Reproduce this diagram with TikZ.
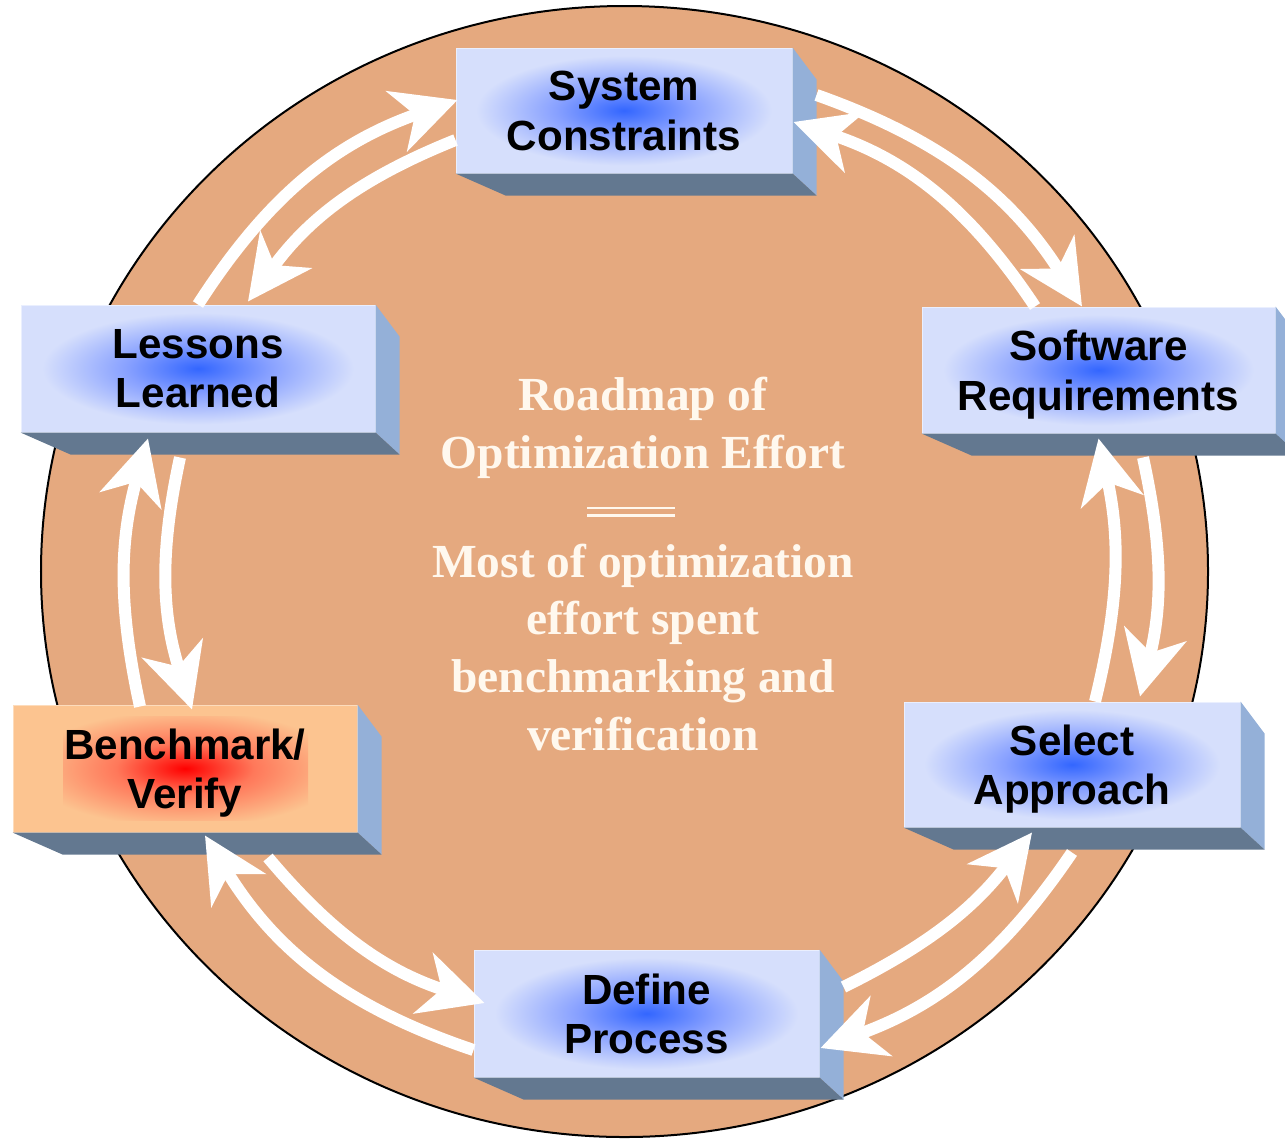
\documentclass[tikz,border=0pt]{standalone}
\usepackage{fontspec}
\setmainfont{Liberation Serif}
\setsansfont{Liberation Sans}
\usetikzlibrary{calc}
\usetikzlibrary{arrows.meta}

\definecolor{discfill}{RGB}{229,169,127}
\definecolor{facelight}{RGB}{214,223,252}
\definecolor{facemid}{RGB}{135,160,255}
\definecolor{facecore}{RGB}{51,102,255}
\definecolor{sidefill}{RGB}{148,176,216}
\definecolor{bottomfill}{RGB}{99,120,144}
\definecolor{peach}{RGB}{252,196,144}
\definecolor{peachmid}{RGB}{255,120,90}
\definecolor{notetext}{RGB}{255,248,238}

\pgfdeclareradialshading{blueglow}{\pgfpoint{0bp}{0bp}}{color(0bp)=(facecore); color(10bp)=(facemid); color(22bp)=(facelight); color(50bp)=(facelight)}
\pgfdeclareradialshading{redglow}{\pgfpoint{0bp}{0bp}}{color(0bp)=(red); color(10bp)=(peachmid); color(23bp)=(peach); color(50bp)=(peach)}

\tikzset{
    stepbox/.style={rectangle, inner sep=0pt, draw=white!50!facelight, line width=0.01cm,
        align=center, text depth=0pt, font=\sffamily\bfseries\fontsize{12}{14.1}\selectfont},
    glowbox/.style={stepbox, shade, shading=blueglow},
    cyclearrow/.style={white, line width=0.12cm, -{Stealth[length=0.64cm,width=0.63cm,inset=0.19cm]}},
    notefont/.style={text=notetext, align=center, inner sep=0pt,
        font=\rmfamily\bfseries\fontsize{13.5}{16.5}\selectfont}
}

\begin{document}
\begin{tikzpicture}

        \useasboundingbox (0,0) rectangle (12.85,-11.40);

        \coordinate (c) at (6.245,-5.715);
        \draw[line width=0.02cm, fill=discfill] (c) ellipse (5.835 and 5.655);

        \node[glowbox, minimum width=3.36cm, minimum height=1.25cm] (sc) at (6.24,-1.105) {System\\Constraints};
        \node[glowbox, minimum width=3.53cm, minimum height=1.26cm] (sr) at (10.985,-3.70) {Software\\Requirements};
        \node[glowbox, minimum width=3.36cm, minimum height=1.25cm] (sa) at (10.72,-7.645) {Select\\Approach};
        \node[glowbox, minimum width=3.45cm, minimum height=1.27cm] (dp) at (6.465,-10.135) {Define\\Process};
        \node[stepbox, fill=peach, draw=white!40!peach,
            minimum width=3.44cm, minimum height=1.27cm,
            path picture={\shade[shading=redglow] ($(path picture bounding box.center)+(-1.22,-0.52)$) rectangle ($(path picture bounding box.center)+(1.23,0.52)$);}] (bv) at (1.85,-7.685) {Benchmark/\\Verify};
        \node[glowbox, minimum width=3.54cm, minimum height=1.27cm] (ll) at (1.98,-3.685) {Lessons\\Learned};

        \foreach \n in {sc,sr,sa,dp,bv,ll}{
            \fill[sidefill] (\n.north east) -- ++(0.24,-0.32) -- ($(\n.south east)+(0.24,-0.22)$) -- (\n.south east) -- cycle;
            \fill[bottomfill] (\n.south west) -- ++(0.5,-0.22) -- ($(\n.south east)+(0.24,-0.22)$) -- (\n.south east) -- cycle;
        }

        % Lessons <-> System
        \draw[cyclearrow] (ll.north) to[bend left=19] ($(sc.west)+(0.02,0.105)$);
        \draw[cyclearrow] ($(sc.west)+(0,-0.295)$) to[bend right=16] ($(ll.north)+(0.5,0.03)$);
        % System <-> Software
        \draw[cyclearrow] ($(sc.east)+(0.24,0.155)$) to[bend left=19] ($(sr.north)+(-0.165,0)$);
        \draw[cyclearrow] ($(sr.north)+(-0.635,0)$) to[bend right=19] ($(sc.east)+(0.01,-0.115)$);
        % Software <-> Select
        \draw[cyclearrow] ($(sr.south)+(0.445,-0.24)$) to[bend left=13] ($(sa.north)+(0.68,0.05)$);
        \draw[cyclearrow] ($(sa.north)+(0.23,0)$) to[bend right=13] ($(sr.south)+(0,-0.05)$);
        % Select <-> Define
        \draw[cyclearrow] ($(sa.south)+(0,-0.25)$) to[bend left=18] ($(dp.east)+(0.01,-0.345)$);
        \draw[cyclearrow] ($(dp.east)+(0.24,0.265)$) to[bend right=13] ($(sa.south)+(-0.4,-0.05)$);
        % Define <-> Benchmark
        \draw[cyclearrow] ($(dp.west)+(0,-0.365)$) to[bend left=20] ($(bv.south)+(0.2,-0.03)$);
        \draw[cyclearrow] ($(bv.south)+(0.83,-0.25)$) to[bend right=16] ($(dp.west)+(0.11,0.105)$);
        % Benchmark <-> Lessons
        \draw[cyclearrow] ($(bv.north)+(-0.45,-0.02)$) to[bend left=14] ($(ll.south)+(-0.5,-0.06)$);
        \draw[cyclearrow] ($(ll.south)+(-0.18,-0.25)$) to[bend right=15] ($(bv.north)+(0.07,-0.05)$);

        \node[notefont] (title) at (6.43,-4.28) {Roadmap of\\Optimization Effort};
        \draw[notetext, line width=0.025cm] (5.87,-5.08) -- (6.75,-5.08);
        \draw[notetext, line width=0.025cm] (5.87,-5.155) -- (6.75,-5.155);
        \node[notefont] (note) at (6.43,-6.475) {Most of optimization\\effort spent\\benchmarking and\\verification};

    \end{tikzpicture}
\end{document}
